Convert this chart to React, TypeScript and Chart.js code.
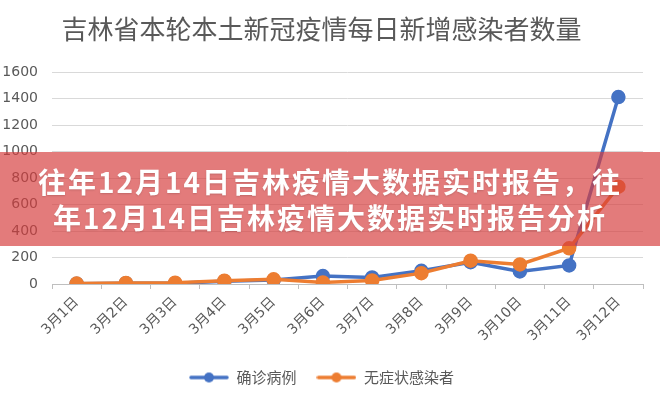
import React, { useEffect, useRef } from "react";
import { Chart, registerables } from "chart.js";

Chart.register(...registerables);

const titleText = "吉林省本轮本土新冠疫情每日新增感染者数量";
const categories = ["3月1日", "3月2日", "3月3日", "3月4日", "3月5日", "3月6日", "3月7日", "3月8日", "3月9日", "3月10日", "3月11日", "3月12日"];
const seriesNames = ["确诊病例", "无症状感染者"];
const confirmed = [2, 6, 5, 20, 30, 60, 50, 100, 165, 95, 140, 1412];
const asymptomatic = [3, 8, 10, 25, 35, 12, 27, 82, 176, 148, 270, 735];
const yMin = 0;
const yMax = 1600;
const yStep = 200;
const bannerLines = ["往年12月14日吉林疫情大数据实时报告，往", "年12月14日吉林疫情大数据实时报告分析"];

const BLUE = "#4472C4";
const ORANGE = "#ED7D31";
const TEXT = "#595959";
const FAMILY = "'DejaVu Sans', 'Noto Sans CJK SC', sans-serif";

function legendIcon(color: string): HTMLCanvasElement {
  const c = document.createElement("canvas");
  c.width = 40;
  c.height = 12;
  const ctx = c.getContext("2d")!;
  ctx.strokeStyle = color;
  ctx.lineWidth = 3.5;
  ctx.lineCap = "round";
  ctx.beginPath();
  ctx.moveTo(2, 6);
  ctx.lineTo(38, 6);
  ctx.stroke();
  ctx.fillStyle = color;
  ctx.beginPath();
  ctx.arc(20, 6, 5, 0, Math.PI * 2);
  ctx.fill();
  return c;
}

export default function App() {
  const ref = useRef<HTMLCanvasElement | null>(null);

  useEffect(() => {
    if (!ref.current) return;
    const colors = [BLUE, ORANGE];
    const chart = new Chart(ref.current, {
      type: "line",
      data: {
        labels: categories,
        datasets: [
          {
            label: seriesNames[0],
            data: confirmed,
            borderColor: BLUE,
            backgroundColor: BLUE,
            pointBackgroundColor: BLUE,
            pointBorderColor: BLUE,
            borderWidth: 3.5,
            pointRadius: 5.5,
            tension: 0,
            order: 1,
          },
          {
            label: seriesNames[1],
            data: asymptomatic,
            borderColor: ORANGE,
            backgroundColor: ORANGE,
            pointBackgroundColor: ORANGE,
            pointBorderColor: ORANGE,
            borderWidth: 3.5,
            pointRadius: 5.5,
            tension: 0,
            order: 0,
          },
        ],
      },
      options: {
        responsive: false,
        animation: false,
        layout: { padding: { left: 0, right: 17, top: 0, bottom: 5 } },
        plugins: {
          tooltip: { enabled: false },
          title: {
            display: true,
            text: titleText,
            color: TEXT,
            font: { family: "'Noto Sans CJK SC', sans-serif", size: 26, weight: "normal" },
            padding: { top: 14, bottom: 27 },
          },
          legend: {
            position: "bottom",
            labels: {
              usePointStyle: true,
              pointStyleWidth: 40,
              boxHeight: 12,
              color: TEXT,
              padding: 20,
              font: { family: "'Noto Sans CJK SC', sans-serif", size: 15 },
              generateLabels: (ch: any) =>
                ch.data.datasets.map((ds: any, i: number) => ({
                  text: ds.label,
                  pointStyle: legendIcon(colors[i]),
                  fillStyle: colors[i],
                  strokeStyle: colors[i],
                  lineWidth: 0,
                  hidden: false,
                  datasetIndex: i,
                  fontColor: TEXT,
                })),
            },
          },
        },
        scales: {
          x: {
            type: "category",
            offset: true,
            grid: {
              offset: true,
              drawOnChartArea: false,
              drawTicks: true,
              tickLength: 5,
              color: "#bfbfbf",
            },
            border: { display: true, color: "#bfbfbf", width: 1 },
            ticks: {
              autoSkip: false,
              maxRotation: 45,
              minRotation: 45,
              padding: 5,
              color: TEXT,
              font: { family: FAMILY, size: 14 },
            },
            afterFit: (s: any) => {
              s.height = 66;
            },
          },
          y: {
            min: yMin,
            max: yMax,
            ticks: {
              stepSize: yStep,
              padding: 14,
              color: TEXT,
              font: { family: FAMILY, size: 14 },
              callback: (v: any) => String(v),
            },
            grid: { color: "#d9d9d9", drawTicks: false, lineWidth: 1 },
            border: { display: false },
            afterFit: (s: any) => {
              s.width = 52;
            },
          },
        },
      },
    });
    return () => chart.destroy();
  }, []);

  return (
    <div style={{ position: "fixed", left: 0, top: 0, width: 660, height: 400, background: "#fff", overflow: "hidden" }}>
      <canvas ref={ref} width={660} height={400} style={{ display: "block", width: 660, height: 400 }} />
      <div
        style={{
          position: "absolute",
          left: 0,
          top: 152,
          width: 660,
          height: 94,
          background: "rgba(214,60,60,0.68)",
          color: "#fff",
          fontFamily: "'Noto Sans CJK SC', sans-serif",
          fontWeight: 700,
          fontSize: 28,
          lineHeight: "36px",
          textAlign: "center",
          paddingTop: 11,
          boxSizing: "border-box",
          letterSpacing: 2,
          textShadow: "0 1px 2px rgba(0,0,0,0.15)",
        }}
      >
        {bannerLines.map((l, i) => (
          <div key={i}>{l}</div>
        ))}
      </div>
    </div>
  );
}
